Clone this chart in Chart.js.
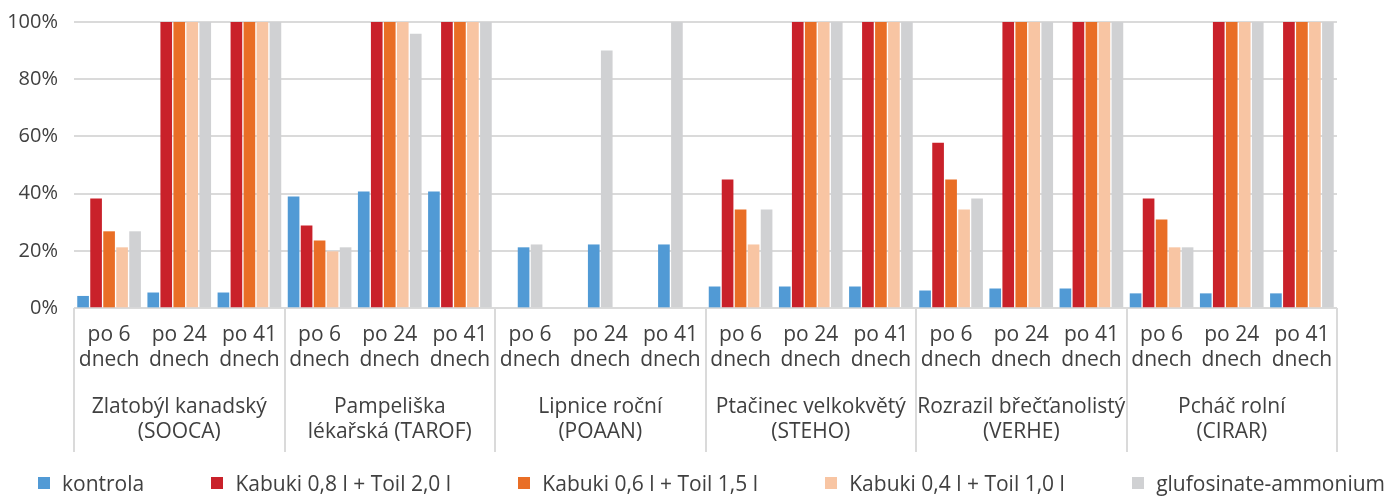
<!DOCTYPE html>
<html>
<head>
<meta charset="utf-8">
<script src="https://cdn.jsdelivr.net/npm/chart.js@4"></script>
<style>
  html, body { margin: 0; padding: 0; background: #fff; }
  #wrap { position: relative; width: 1400px; height: 496px; }
  #legend {
    position: absolute; left: 38px; width: 1347px; top: 471px;
    display: flex; justify-content: space-between; align-items: center;
    font-family: "Open Sans", sans-serif; font-size: 21px; color: #404040;
    line-height: 24px;
  }
  #legend span.item { display: flex; align-items: center; white-space: nowrap; }
  #legend span.box { display: inline-block; width: 12px; height: 12px; margin-right: 12px; }
</style>
</head>
<body>
<div id="wrap">
  <canvas id="myChart" width="1400" height="496"></canvas>
  <div id="legend"></div>
</div>
<script>
// hodnocení účinnosti (%) po 6, 24 a 41 dnech
var periods = [["po 6", "dnech"], ["po 24", "dnech"], ["po 41", "dnech"]];
var weeds = [
  ["Zlatobýl kanadský", "(SOOCA)"],
  ["Pampeliška", "lékařská (TAROF)"],
  ["Lipnice roční", "(POAAN)"],
  ["Ptačinec velkokvětý", "(STEHO)"],
  ["Rozrazil břečťanolistý", "(VERHE)"],
  ["Pcháč rolní", "(CIRAR)"]
];
var yTicks = [0, 20, 40, 60, 80, 100];

var seriesNames = [
  "kontrola",
  "Kabuki 0,8 l + Toil 2,0 l",
  "Kabuki 0,6 l + Toil 1,5 l",
  "Kabuki 0,4 l + Toil 1,0 l",
  "glufosinate-ammonium"
];
var seriesColors = ["#519ad5", "#c9212a", "#e96e26", "#f8c5a3", "#d0d1d3"];

// u lipnice roční přípravek Kabuki nehodnocen (null)
var kontrola = [4.1, 5.3, 5.3, 38.9, 40.6, 40.6, 21.1, 22.1, 22.1, 7.4, 7.4, 7.4, 6.0, 6.7, 6.7, 5.0, 5.0, 5.0];
var kabuki08 = [38.2, 100, 100, 28.7, 100, 100, null, null, null, 44.8, 100, 100, 57.7, 100, 100, 38.2, 100, 100];
var kabuki06 = [26.7, 100, 100, 23.5, 100, 100, null, null, null, 34.3, 100, 100, 44.8, 100, 100, 30.8, 100, 100];
var kabuki04 = [21.1, 100, 100, 19.7, 100, 100, null, null, null, 22.1, 100, 100, 34.3, 100, 100, 21.1, 100, 100];
var glufosinat = [26.7, 100, 100, 21.1, 95.8, 100, 22.1, 89.9, 100, 34.3, 100, 100, 38.2, 100, 100, 21.1, 100, 100];

var seriesValues = [kontrola, kabuki08, kabuki06, kabuki04, glufosinat];

// popisky osy x: 3 termíny pro každý plevel
var labels = [];
weeds.forEach(function () {
  periods.forEach(function (p) { labels.push(p); });
});

var textColor = "#404040";
var gridColor = "#dadada";
var fontFamily = "'Open Sans', sans-serif";

var datasets = seriesValues.map(function (vals, i) {
  return {
    label: seriesNames[i],
    data: vals,
    backgroundColor: seriesColors[i],
    borderWidth: 0,
    skipNull: true,
    barThickness: 13,
    maxBarThickness: 11
  };
});

// svislé oddělovače skupin pod osou x
var groupSeparators = {
  id: "groupSeparators",
  afterDraw: function (chart) {
    var x2 = chart.scales.x2;
    var ctx = chart.ctx;
    var half = (x2.getPixelForValue(1) - x2.getPixelForValue(0)) / 2;
    ctx.save();
    ctx.strokeStyle = gridColor;
    ctx.lineWidth = 2;
    for (var g = 0; g <= weeds.length; g++) {
      var px = Math.round(x2.getPixelForValue(0) - half + g * half * 2);
      ctx.beginPath();
      ctx.moveTo(px, chart.chartArea.bottom);
      ctx.lineTo(px, x2.bottom);
      ctx.stroke();
    }
    ctx.restore();
  }
};

var ctx = document.getElementById("myChart");
var myChart = new Chart(ctx, {
  type: "bar",
  data: { labels: labels, datasets: datasets },
  plugins: [groupSeparators],
  options: {
    responsive: false,
    animation: false,
    layout: { padding: { top: 22, right: 63, bottom: 44, left: 0 } },
    plugins: {
      legend: { display: false },
      tooltip: { enabled: false }
    },
    scales: {
      y: {
        min: 0,
        max: 100,
        afterBuildTicks: function (scale) {
          scale.ticks = yTicks.map(function (v) { return { value: v }; });
        },
        afterFit: function (scale) {
          scale.width = 74;
          scale.paddingTop = 0;
          scale.paddingBottom = 0;
        },
        grid: { color: gridColor, lineWidth: 2, drawTicks: false },
        border: { display: false },
        ticks: {
          padding: 16,
          color: textColor,
          font: { family: fontFamily, size: 20 },
          callback: function (v) { return v + "%"; }
        }
      },
      x: {
        weight: 0,
        offset: true,
        grid: { display: false },
        border: { display: false },
        afterFit: function (scale) { scale.height = 72; },
        ticks: {
          autoSkip: false,
          maxRotation: 0,
          padding: 7,
          color: textColor,
          font: { family: fontFamily, size: 21, lineHeight: 1.19 }
        }
      },
      x2: {
        type: "category",
        position: "bottom",
        weight: 1,
        labels: weeds,
        offset: true,
        grid: { display: false },
        border: { display: false },
        afterFit: function (scale) { scale.height = 72; },
        ticks: {
          autoSkip: false,
          maxRotation: 0,
          padding: 7,
          color: textColor,
          font: { family: fontFamily, size: 21, lineHeight: 1.19 }
        }
      }
    }
  }
});

// legenda pod grafem
var legendEl = document.getElementById("legend");
myChart.data.datasets.forEach(function (ds) {
  var item = document.createElement("span");
  item.className = "item";
  var box = document.createElement("span");
  box.className = "box";
  box.style.background = ds.backgroundColor;
  item.appendChild(box);
  item.appendChild(document.createTextNode(ds.label));
  legendEl.appendChild(item);
});
</script>
</body>
</html>
